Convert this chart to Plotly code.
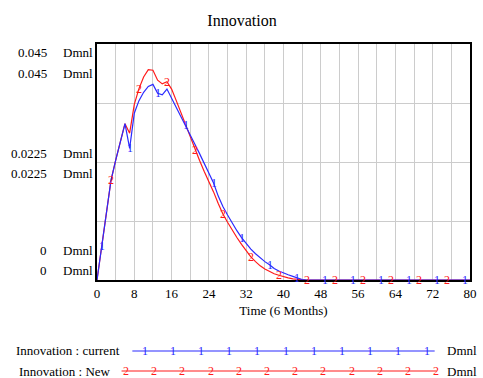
import plotly.graph_objects as go

# ---------------- data ----------------
time = list(range(0, 81))
current = [0, 0.0065, 0.0135, 0.0190, 0.0228, 0.0263, 0.0298, 0.0251, 0.0318, 0.0342,
           0.0358, 0.0369, 0.0373, 0.0356, 0.0353, 0.0364, 0.0347, 0.0330, 0.0313, 0.0296,
           0.0278, 0.0259, 0.0241, 0.0222, 0.0204, 0.0185, 0.0160, 0.0140, 0.0124, 0.0108,
           0.0094, 0.0081, 0.0069, 0.0059, 0.0050, 0.0042, 0.0035, 0.0029, 0.0022, 0.0017,
           0.0013, 0.0010, 0.0007, 0.0004, 0.0001] + [0] * 36
new = [0, 0.0065, 0.0135, 0.0190, 0.0228, 0.0263, 0.0298, 0.0280, 0.0335, 0.0365,
       0.0387, 0.0401, 0.0400, 0.0381, 0.0374, 0.0378, 0.0364, 0.0342, 0.0319, 0.0297,
       0.0272, 0.0248, 0.0228, 0.0207, 0.0188, 0.0168, 0.0146, 0.0126, 0.0110, 0.0095,
       0.0081, 0.0068, 0.0055, 0.0044, 0.0035, 0.0027, 0.0021, 0.0016, 0.0012, 0.0009,
       0.0006, 0.0004, 0.0002, 0.0001] + [0] * 37
x_grid = list(range(0, 81, 4))
x_labels = [str(v) if v % 8 == 0 else "" for v in x_grid]
y_labels = [0.045, 0.0225, 0]
series_names = ["Innovation : current", "Innovation : New"]
units = "Dmnl"

BLUE = "#2a2aff"
RED = "#ff1a1a"
FONT = "Liberation Serif"

W, H = 483, 378
L, R, T, B = 97, 6, 44, 98
PW, PH = W - L - R, H - T - B


def px(x):
    return (x - L) / PW


def py(y):
    return (H - B - y) / PH


fig = go.Figure()
fig.add_trace(go.Scatter(x=time, y=new, mode="lines", line=dict(color=RED, width=1.2),
                         showlegend=False, hoverinfo="skip"))
fig.add_trace(go.Scatter(x=time, y=current, mode="lines", line=dict(color=BLUE, width=1.2),
                         showlegend=False, hoverinfo="skip"))

annotations = []
shapes = []

# series number markers placed on the data (Vensim style)
bi = list(range(1, 81, 6))
ri = list(range(3, 81, 6))
for i in ri:
    annotations.append(dict(x=time[i], y=new[i], xref="x", yref="y", text="2", showarrow=False,
                            xanchor="center", yanchor="middle",
                            font=dict(family=FONT, size=12, color=RED)))
for i in bi:
    annotations.append(dict(x=time[i], y=current[i], xref="x", yref="y", text="1", showarrow=False,
                            xanchor="center", yanchor="middle",
                            font=dict(family=FONT, size=12, color=BLUE)))

label_rows = {0.045: (52, 73), 0.0225: (153, 173), 0: (250, 270)}
for v in y_labels:
    for ypix in label_rows[v]:
        annotations.append(dict(x=px(48), y=py(ypix), xref="paper", yref="paper", text=f"{v:g}",
                                showarrow=False, xanchor="right", yanchor="middle",
                                font=dict(family=FONT, size=13, color="black")))
        annotations.append(dict(x=px(60), y=py(ypix), xref="paper", yref="paper", text=units,
                                showarrow=False, xanchor="left", yanchor="middle",
                                font=dict(family=FONT, size=13, color="black")))

rows = [(351, BLUE, "1", 133, 441, 145.7), (371, RED, "2", 122, 443, 126.7)]
for name, (ypix, col, mk, x0, x1, m0) in zip(series_names, rows):
    annotations.append(dict(x=px(122 if mk == "1" else 113), y=py(ypix), xref="paper", yref="paper",
                            text=name, showarrow=False, xanchor="right", yanchor="middle",
                            font=dict(family=FONT, size=13, color="black")))
    annotations.append(dict(x=px(452), y=py(ypix), xref="paper", yref="paper", text=units,
                            showarrow=False, xanchor="left", yanchor="middle",
                            font=dict(family=FONT, size=13, color="black")))
    shapes.append(dict(type="line", xref="paper", yref="paper", x0=px(x0), x1=px(x1),
                       y0=py(ypix), y1=py(ypix), line=dict(color=col, width=1.2)))
    k = 0
    while m0 + k * 28.7 <= x1 + 1:
        annotations.append(dict(x=px(m0 + k * 28.7), y=py(ypix), xref="paper", yref="paper",
                                text=mk, showarrow=False, xanchor="center", yanchor="middle",
                                font=dict(family=FONT, size=12, color=col)))
        k += 1

fig.update_layout(
    width=W, height=H,
    margin=dict(l=L, r=R, t=T, b=B, pad=0),
    paper_bgcolor="white", plot_bgcolor="white",
    title=dict(text="Innovation", x=242 / W, xanchor="center", y=1 - 20 / H,
               yanchor="middle", font=dict(family=FONT, size=16, color="black")),
    font=dict(family=FONT, size=13, color="black"),
    annotations=annotations, shapes=shapes,
    xaxis=dict(range=[0, 80], tickvals=x_grid, ticktext=x_labels, ticks="", showgrid=True,
               gridcolor="#cccccc", gridwidth=1,
               showline=True, linecolor="black", linewidth=2, mirror=True, zeroline=False,
               title=dict(text="Time (6 Months)", font=dict(family=FONT, size=13), standoff=6),
               tickfont=dict(family=FONT, size=13)),
    yaxis=dict(range=[0, 0.045], dtick=0.01125, showticklabels=False, ticks="", showgrid=True,
               gridcolor="#cccccc", gridwidth=1, showline=True, linecolor="black", linewidth=2,
               mirror=True, zeroline=False),
)

fig.write_html("out.html")
